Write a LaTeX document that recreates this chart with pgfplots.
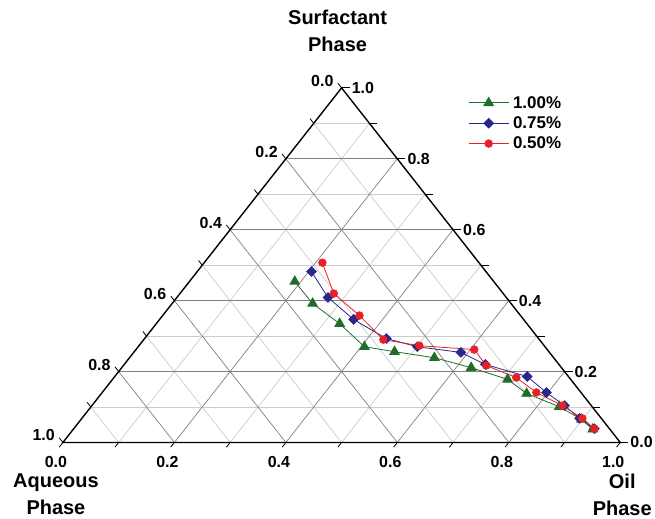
\documentclass[border=0pt]{standalone}
\usepackage{fontspec}
\setmainfont{Liberation Sans}
\usepackage{pgfplots}
\pgfplotsset{compat=1.18}
\usepackage{pgfplotstable}
\usetikzlibrary{calc}

\definecolor{sgreen}{RGB}{30,110,40}
\definecolor{sblue}{RGB}{40,40,140}
\definecolor{sred}{RGB}{232,32,40}

% columns: O = oil, S = surfactant, A = aqueous (fractions)
\pgfplotstableread{
O S A
0.189 0.454 0.357
0.252 0.392 0.356
0.329 0.335 0.336
0.406 0.270 0.324
0.467 0.256 0.277
0.547 0.239 0.214
0.627 0.211 0.162
0.709 0.178 0.113
0.763 0.138 0.099
0.840 0.101 0.059
0.898 0.065 0.037
0.932 0.037 0.031
}\greendata
\pgfplotstableread{
O S A
0.205 0.482 0.313
0.271 0.409 0.320
0.348 0.347 0.305
0.434 0.293 0.273
0.501 0.270 0.229
0.587 0.254 0.159
0.648 0.220 0.132
0.740 0.186 0.074
0.797 0.141 0.062
0.848 0.104 0.048
0.893 0.068 0.039
0.934 0.039 0.027
}\bluedata
\pgfplotstableread{
O S A
0.212 0.507 0.281
0.276 0.420 0.304
0.353 0.358 0.289
0.430 0.290 0.280
0.503 0.273 0.224
0.607 0.262 0.131
0.651 0.217 0.132
0.722 0.183 0.095
0.779 0.141 0.080
0.844 0.104 0.052
0.898 0.068 0.034
0.934 0.039 0.027
}\reddata

\tikzset{
  majgrid/.style={draw=gray, line width=0.7pt},
  mingrid/.style={draw=gray!40, line width=0.7pt},
  tlab/.style={font=\fontsize{16}{19}\selectfont\bfseries, inner sep=0pt},
  phaselab/.style={align=center, font=\fontsize{20}{27}\selectfont\bfseries},
}

\begin{document}
\begin{tikzpicture}
\begin{axis}[
    width=558pt, height=355pt, scale only axis,
    xmin=0, xmax=1, ymin=0, ymax=1,
    axis lines=none, clip=false,
    legend style={at={(axis description cs:0.727,0.98)}, anchor=north west,
        draw=none, fill=none, font=\fontsize{17}{20}\selectfont\bfseries,
        inner sep=0pt, row sep=5pt, nodes={inner xsep=4pt, inner ysep=1pt}},
    legend cell align=left,
    legend image code/.code={
        \draw[mark repeat=2, mark phase=2] plot coordinates {(0pt,0pt) (20pt,0pt) (40pt,0pt)};
    },
]
% grid: constant surfactant (horizontal), constant oil, constant aqueous
\pgfplotsinvokeforeach{0.1,0.3,0.5,0.7,0.9}{
  \draw[mingrid] (axis cs:#1/2,#1) -- (axis cs:1-#1/2,#1);
  \draw[mingrid] (axis cs:#1,0) -- (axis cs:0.5+#1/2,1-#1);
  \draw[mingrid] (axis cs:0.5-#1/2,1-#1) -- (axis cs:1-#1,0);
}
\pgfplotsinvokeforeach{0.2,0.4,0.6,0.8}{
  \draw[majgrid] (axis cs:#1/2,#1) -- (axis cs:1-#1/2,#1);
  \draw[majgrid] (axis cs:#1,0) -- (axis cs:0.5+#1/2,1-#1);
  \draw[majgrid] (axis cs:0.5-#1/2,1-#1) -- (axis cs:1-#1,0);
}
% ticks
\pgfplotsinvokeforeach{0,0.1,0.2,0.3,0.4,0.5,0.6,0.7,0.8,0.9,1}{
  \draw[black, line width=0.8pt] (axis cs:#1,0) -- ++(-3.7pt,-4.7pt);
  \draw[black, line width=0.8pt] (axis cs:1-#1/2,#1) -- ++(8pt,0pt);
  \draw[black, line width=0.8pt] (axis cs:0.5-#1/2,1-#1) -- ++(-3.7pt,4.7pt);
}
% triangle
\draw[black, line width=1.4pt, line join=miter] (axis cs:0,0) -- (axis cs:1,0) -- (axis cs:0.5,1) -- cycle;
% tick labels
\pgfplotsinvokeforeach{0.0,0.2,0.4,0.6,0.8,1.0}{
  \node[tlab] at ([shift={(-7pt,-20pt)}]axis cs:#1,0) {#1};
  \node[tlab, anchor=west] at ([shift={(10pt,0pt)}]axis cs:1-#1/2,#1) {#1};
  \node[tlab, anchor=east] at ([shift={(-8pt,7pt)}]axis cs:0.5-#1/2,1-#1) {#1};
}

\addplot[color=sgreen, line width=0.8pt, mark=triangle*, mark size=5.5pt]
    table[x expr=\thisrow{O}+0.5*\thisrow{S}, y=S] {\greendata};
\addlegendentry{1.00\%}
\addplot[color=sblue, line width=0.8pt, mark=square*, mark size=3.4pt, mark options={rotate=45}]
    table[x expr=\thisrow{O}+0.5*\thisrow{S}, y=S] {\bluedata};
\addlegendentry{0.75\%}
\addplot[color=sred, line width=0.8pt, mark=*, mark size=3.8pt]
    table[x expr=\thisrow{O}+0.5*\thisrow{S}, y=S] {\reddata};
\addlegendentry{0.50\%}

\node[phaselab] at ([shift={(-4pt,57pt)}]axis cs:0.5,1) {Surfactant\\Phase};
\node[phaselab] at ([shift={(-7pt,-52pt)}]axis cs:0,0) {Aqueous\\Phase};
\node[phaselab] at ([shift={(2pt,-52pt)}]axis cs:1,0) {Oil\\Phase};
\coordinate (BL) at (axis cs:0,0);
\end{axis}
\path[use as bounding box] ($(BL)+(-63pt,-76pt)$) rectangle ($(BL)+(592pt,443pt)$);
\end{tikzpicture}
\end{document}
